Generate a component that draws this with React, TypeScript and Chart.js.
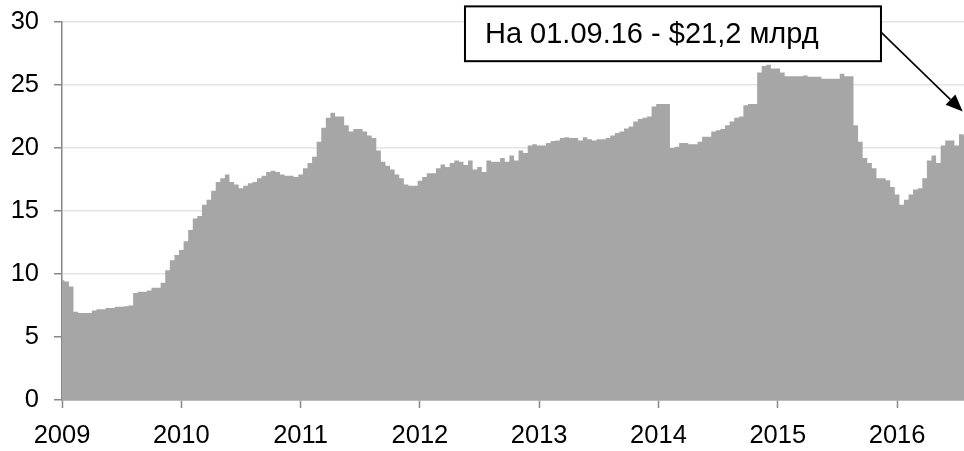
import React, { useEffect, useRef } from "react";
import { Chart, registerables } from "chart.js";

Chart.register(...registerables);

// Reserves, $ bn, semi-monthly readings (26 per year), starting January 2009
const START_YEAR = 2009;
const POINTS_PER_YEAR = 26;
const X_MAX = 2016.561;

const reserves2009 = [9.5, 9.4, 9.0, 7.0, 6.9, 6.9, 6.9, 7.1, 7.2, 7.2, 7.3, 7.3, 7.4, 7.4, 7.45, 7.5, 8.5, 8.6, 8.6, 8.7, 8.9, 8.9, 9.3, 10.3, 11.1, 11.5];
const reserves2010 = [11.9, 12.6, 13.5, 14.4, 14.6, 15.5, 15.9, 16.6, 17.3, 17.6, 17.9, 17.3, 17.1, 16.8, 17.0, 17.2, 17.3, 17.6, 17.8, 18.1, 18.2, 18.1, 17.9, 17.8, 17.8, 17.7];
const reserves2011 = [17.9, 18.4, 18.8, 19.3, 20.5, 21.6, 22.4, 22.8, 22.5, 22.5, 21.8, 21.3, 21.5, 21.5, 21.3, 21.0, 20.8, 19.8, 18.9, 18.6, 18.3, 17.9, 17.6, 17.1, 17.0, 17.0];
const reserves2012 = [17.4, 17.7, 18.0, 18.0, 18.4, 18.7, 18.5, 18.8, 19.0, 18.9, 18.65, 19.0, 18.3, 18.5, 18.1, 19.0, 18.9, 18.9, 19.2, 18.9, 19.4, 19.0, 19.8, 19.6, 20.2, 20.3];
const reserves2013 = [20.2, 20.2, 20.4, 20.55, 20.6, 20.8, 20.85, 20.8, 20.8, 20.6, 20.85, 20.7, 20.6, 20.7, 20.7, 20.8, 21.0, 21.2, 21.3, 21.55, 21.7, 22.1, 22.3, 22.4, 22.5, 23.3];
const reserves2014 = [23.5, 23.5, 23.5, 20.0, 20.1, 20.4, 20.4, 20.3, 20.3, 20.5, 20.9, 20.9, 21.3, 21.4, 21.5, 21.8, 22.1, 22.4, 22.5, 23.4, 23.5, 23.5, 26.0, 26.5, 26.6, 26.3];
const reserves2015 = [26.3, 26.0, 25.7, 25.7, 25.7, 25.7, 25.75, 25.65, 25.65, 25.65, 25.5, 25.5, 25.5, 25.5, 25.9, 25.7, 25.7, 21.8, 20.5, 19.2, 18.8, 18.4, 17.6, 17.6, 17.45, 16.9];
const reserves2016 = [16.3, 15.5, 15.9, 16.3, 16.7, 16.8, 17.6, 19.0, 19.4, 18.8, 20.2, 20.6, 20.6, 20.2, 21.1, 21.0];

const yearTicks = [2009, 2010, 2011, 2012, 2013, 2014, 2015, 2016];
const valueTicks = [0, 5, 10, 15, 20, 25, 30];

const annotationText = "На 01.09.16 - $21,2 млрд";
// annotation placement in data units
const BOX_X_FROM = 2012.378;
const BOX_X_TO = 2015.865;
const BOX_Y_TOP = 31.24;
const BOX_Y_BOTTOM = 26.89;
const ARROW_FROM_Y = 29.2;
const ARROW_TO_X = 2016.55;
const ARROW_TO_Y = 22.9;

const FONT_FAMILY = '"Liberation Sans", Arial, Helvetica, sans-serif';

const annotationPlugin = {
  id: "boxAnnotation",
  afterDraw(chart: any) {
    const { ctx } = chart;
    const x = chart.scales.x;
    const y = chart.scales.y;
    const left = x.getPixelForValue(BOX_X_FROM);
    const right = x.getPixelForValue(BOX_X_TO);
    const top = y.getPixelForValue(BOX_Y_TOP);
    const bottom = y.getPixelForValue(BOX_Y_BOTTOM);

    ctx.save();
    // arrow
    const sx = right;
    const sy = y.getPixelForValue(ARROW_FROM_Y);
    const tx = x.getPixelForValue(ARROW_TO_X);
    const ty = y.getPixelForValue(ARROW_TO_Y);
    const ang = Math.atan2(ty - sy, tx - sx);
    const headLen = 17;
    const headW = 7;
    const cos = Math.cos(ang);
    const sin = Math.sin(ang);
    const bx = tx - headLen * cos;
    const by = ty - headLen * sin;
    ctx.strokeStyle = "#000";
    ctx.fillStyle = "#000";
    ctx.lineWidth = 1.6;
    ctx.beginPath();
    ctx.moveTo(sx, sy);
    ctx.lineTo(bx, by);
    ctx.stroke();
    ctx.beginPath();
    ctx.moveTo(tx, ty);
    ctx.lineTo(bx + headW * sin, by - headW * cos);
    ctx.lineTo(bx - headW * sin, by + headW * cos);
    ctx.closePath();
    ctx.fill();

    // box
    ctx.fillStyle = "#fff";
    ctx.fillRect(left, top, right - left, bottom - top);
    ctx.lineWidth = 2;
    ctx.strokeStyle = "#000";
    ctx.strokeRect(left, top, right - left, bottom - top);

    // text
    ctx.fillStyle = "#000";
    ctx.font = `29px ${FONT_FAMILY}`;
    ctx.textBaseline = "middle";
    ctx.textAlign = "left";
    ctx.fillText(annotationText, left + 20, (top + bottom) / 2 + 1);
    ctx.restore();
  },
};

export default function App() {
  const canvasRef = useRef<HTMLCanvasElement | null>(null);

  useEffect(() => {
    const values = [
      ...reserves2009,
      ...reserves2010,
      ...reserves2011,
      ...reserves2012,
      ...reserves2013,
      ...reserves2014,
      ...reserves2015,
      ...reserves2016,
    ];
    const points = values.map((v, i) => ({ x: START_YEAR + i / POINTS_PER_YEAR, y: v }));
    const tickFont = { family: FONT_FAMILY, size: 25.5 };

    const chart = new Chart(canvasRef.current as HTMLCanvasElement, {
      type: "line",
      data: {
        datasets: [
          {
            data: points,
            fill: "origin",
            backgroundColor: "#a6a6a6",
            borderColor: "rgba(0,0,0,0)",
            borderWidth: 0,
            pointRadius: 0,
            stepped: "middle",
          } as any,
        ],
      },
      options: {
        animation: false,
        responsive: true,
        maintainAspectRatio: false,
        layout: { padding: { top: 22, right: 0, bottom: 0, left: 0 } },
        plugins: {
          legend: { display: false },
          tooltip: { enabled: false },
        },
        scales: {
          x: {
            type: "linear",
            min: START_YEAR,
            max: X_MAX,
            afterBuildTicks: (s: any) => {
              s.ticks = yearTicks.map((v) => ({ value: v }));
            },
            afterFit: (s: any) => {
              s.height = 51;
              s.paddingLeft = 0;
              s.paddingRight = 0;
            },
            ticks: {
              font: tickFont,
              color: "#000",
              padding: 13,
              maxRotation: 0,
              autoSkip: false,
              includeBounds: false,
              callback: (v: any) => String(v),
            },
            grid: {
              drawOnChartArea: false,
              drawTicks: true,
              tickLength: 8,
              tickColor: "#888888",
              tickWidth: 1.5,
            },
            border: { color: "#888888", width: 1.5 },
          } as any,
          y: {
            type: "linear",
            min: 0,
            max: 30,
            afterBuildTicks: (s: any) => {
              s.ticks = valueTicks.map((v) => ({ value: v }));
            },
            afterFit: (s: any) => {
              s.width = 62;
              s.paddingTop = 0;
              s.paddingBottom = 0;
            },
            ticks: {
              font: tickFont,
              color: "#000",
              padding: 15,
              includeBounds: false,
            },
            grid: {
              color: "#e4e4e4",
              lineWidth: 1.5,
              drawTicks: true,
              tickLength: 8,
              tickColor: "#888888",
              tickWidth: 1.5,
            },
            border: { color: "#888888", width: 1.5 },
          } as any,
        },
      },
      plugins: [annotationPlugin],
    });

    return () => chart.destroy();
  }, []);

  return (
    <div style={{ position: "absolute", left: 0, top: 0, width: 964, height: 451 }}>
      <canvas ref={canvasRef} />
    </div>
  );
}
